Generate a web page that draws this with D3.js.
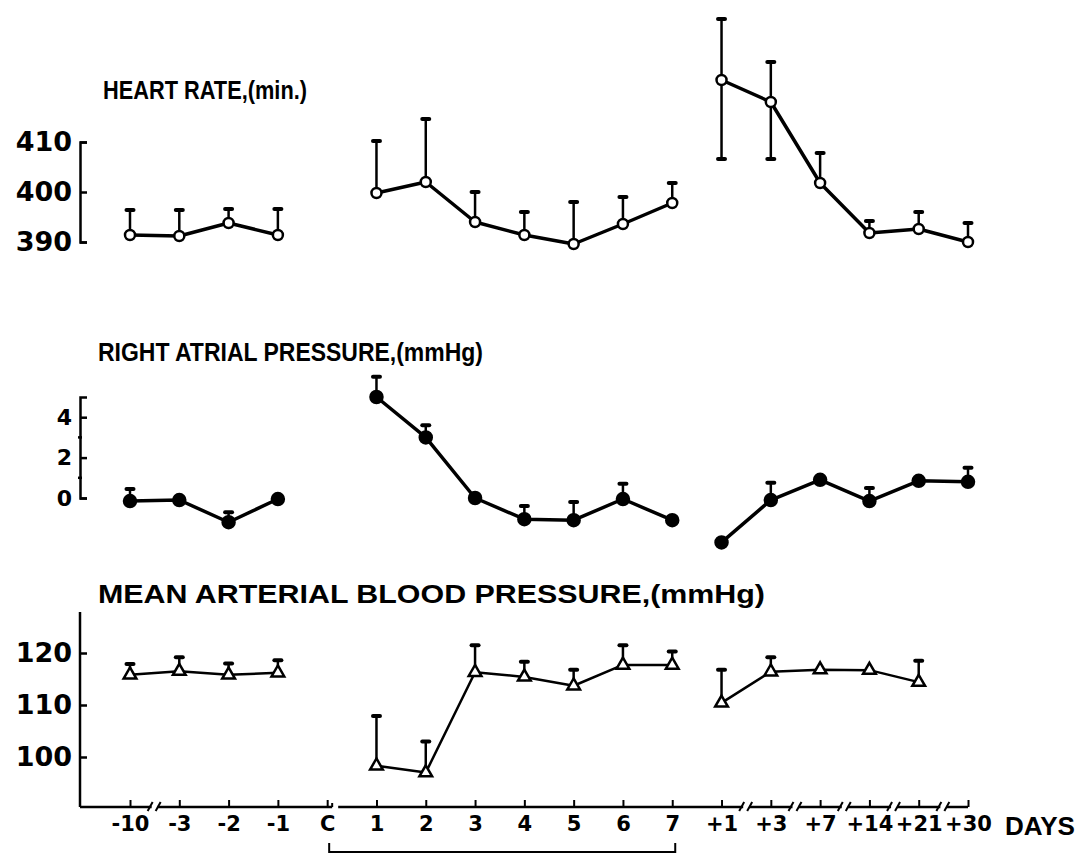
<!DOCTYPE html>
<html>
<head>
<meta charset="utf-8">
<script src="https://cdn.jsdelivr.net/npm/d3@7"></script>
<style>
  body { margin: 0; background: #fff; }
  svg text { font-family: "DejaVu Sans", sans-serif; font-weight: bold; fill: #000; }
  svg text.title { font-family: "Liberation Sans", Arial, sans-serif; }
</style>
</head>
<body>
<svg id="chart" width="1081" height="856"></svg>
<script>
// day categories along the bottom axis
const days  = ["-10","-3","-2","-1","C","1","2","3","4","5","6","7","+1","+3","+7","+14","+21","+30"];
const phase = ["pre","pre","pre","pre",null,"on","on","on","on","on","on","on","post","post","post","post","post","post"];

// heart rate (per min.)
const heartRate   = [391.4,391.2,393.8,391.4,null,399.8,402.0,394.0,391.4,389.6,393.6,397.8,422.4,418.0,401.8,391.8,392.6,390.0];
const hrErrTop    = [396.4,396.4,396.6,396.6,null,410.2,414.6,400.0,396.0,398.0,399.0,401.8,434.6,426.0,407.8,394.2,396.0,393.8];
const hrErrBottom = [null,null,null,null,null,null,null,null,null,null,null,null,406.6,406.6,null,null,null,null];

// right atrial pressure (mmHg)
const rap       = [-0.15,-0.1,-1.2,-0.05,null,5.0,3.0,0.0,-1.05,-1.1,-0.05,-1.1,-2.2,-0.1,0.9,-0.15,0.85,0.8];
const rapErrTop = [0.45,null,-0.7,null,null,6.0,3.6,null,-0.4,-0.2,0.7,null,null,0.75,null,0.5,null,1.5];

// mean arterial blood pressure (mmHg)
const mabp       = [115.8,116.5,115.8,116.2,null,98.3,97.0,116.3,115.4,113.7,117.7,117.7,110.4,116.4,116.8,116.7,114.4,null];
const mabpErrTop = [117.9,119.2,118.0,118.6,null,107.9,103.0,121.5,118.3,116.8,121.5,120.3,116.8,119.2,null,null,118.5,null];

const hrTicks   = [390, 400, 410];
const rapTicks  = [0, 2, 4];
const rapMinor  = [1, 3];
const mabpTicks = [100, 110, 120];

const svg = d3.select("#chart");
const axisX = 80, baseY = 807;

const x = d3.scalePoint().domain(days).range([130, 968]);
const yHR   = d3.scaleLinear().domain([390, 410]).range([242, 142]);
const yRAP  = d3.scaleLinear().domain([0, 5]).range([498, 397]);
const yMABP = d3.scaleLinear().domain([100, 120]).range([757, 653]);

function title(txt, tx, ty, len) {
    svg.append("text").attr("class", "title").attr("x", tx).attr("y", ty)
        .attr("font-size", 25).attr("textLength", len)
        .attr("lengthAdjust", "spacingAndGlyphs").text(txt);
}

function yAxis(y, ticks, fs, hooks) {
    const g = svg.append("g").attr("transform", `translate(${axisX},0)`)
        .call(d3.axisLeft(y).tickValues(ticks).tickFormat(d3.format("d"))
            .tickSizeInner(-7).tickSizeOuter(hooks ? -7 : 0).tickPadding(8));
    g.selectAll("path, line").attr("stroke", "#000").attr("stroke-width", 2.5);
    g.selectAll("text").attr("font-size", fs).attr("font-family", null);
    return g;
}

function panel(vals, top, bottom, y, marker, lw) {
    const g = svg.append("g");
    const idx = d3.range(days.length);
    const line = d3.line().x(i => x(days[i])).y(i => y(vals[i]));
    ["pre", "on", "post"].forEach(p => {
        g.append("path")
            .datum(idx.filter(i => phase[i] === p && vals[i] != null))
            .attr("d", line).attr("fill", "none")
            .attr("stroke", "#000").attr("stroke-width", lw)
            .attr("stroke-linejoin", "round");
    });
    [top, bottom].forEach(arr => {
        if (!arr) return;
        const e = idx.filter(i => arr[i] != null && vals[i] != null);
        g.selectAll(null).data(e).enter().append("line")
            .attr("x1", i => x(days[i])).attr("x2", i => x(days[i]))
            .attr("y1", i => y(vals[i])).attr("y2", i => y(arr[i]))
            .attr("stroke", "#000").attr("stroke-width", 2.5);
        g.selectAll(null).data(e).enter().append("line")
            .attr("x1", i => x(days[i]) - 3.5).attr("x2", i => x(days[i]) + 3.5)
            .attr("y1", i => y(arr[i])).attr("y2", i => y(arr[i]))
            .attr("stroke", "#000").attr("stroke-width", 4).attr("stroke-linecap", "round");
    });
    const pts = idx.filter(i => vals[i] != null);
    if (marker === "triangle") {
        g.selectAll(null).data(pts).enter().append("path")
            .attr("d", d3.symbol(d3.symbolTriangle, 70))
            .attr("transform", i => `translate(${x(days[i])},${y(vals[i])})`)
            .attr("fill", "#fff").attr("stroke", "#000").attr("stroke-width", 2.5);
    } else {
        g.selectAll(null).data(pts).enter().append("circle")
            .attr("cx", i => x(days[i])).attr("cy", i => y(vals[i]))
            .attr("r", marker === "filled" ? 6 : 5)
            .attr("fill", marker === "filled" ? "#000" : "#fff")
            .attr("stroke", "#000").attr("stroke-width", 2.5);
    }
}

// --- heart rate ---
title("HEART RATE,(min.)", 103, 99, 204);
yAxis(yHR, hrTicks, 27, true);
panel(heartRate, hrErrTop, hrErrBottom, yHR, "open", 3.5);

// --- right atrial pressure ---
title("RIGHT ATRIAL PRESSURE,(mmHg)", 98, 361, 385);
const rg = yAxis(yRAP, rapTicks, 22, true);
rg.selectAll(null).data(rapMinor).enter().append("line")
    .attr("x1", -2).attr("x2", 2).attr("y1", d => yRAP(d)).attr("y2", d => yRAP(d))
    .attr("stroke", "#000").attr("stroke-width", 2.5);
panel(rap, rapErrTop, null, yRAP, "filled", 3.5);

// --- mean arterial blood pressure ---
title("MEAN ARTERIAL BLOOD PRESSURE,(mmHg)", 98, 603, 667);
const mg = yAxis(yMABP, mabpTicks, 27, false);
mg.select(".domain").remove();
svg.append("line").attr("x1", axisX).attr("x2", axisX).attr("y1", baseY).attr("y2", 612)
    .attr("stroke", "#000").attr("stroke-width", 2.5);
panel(mabp, mabpErrTop, null, yMABP, "triangle", 2.5);

// --- broken day axis ---
const xg = svg.append("g").attr("transform", `translate(0,${baseY})`)
    .call(d3.axisBottom(x).tickSizeInner(-7).tickSizeOuter(0).tickPadding(9));
xg.select(".domain").remove();
xg.selectAll("line").attr("stroke", "#000").attr("stroke-width", 2);
xg.selectAll("text").attr("font-size", 21).attr("font-family", null);

const breaksAfter = ["-10", "+1", "+3", "+7", "+14", "+21"];
const gaps = breaksAfter.map(d => (x(d) + x(days[days.indexOf(d) + 1])) / 2);
const cGap = x("C") + 8;
const cuts = [cGap].concat(gaps).sort((a, b) => a - b);
let start = axisX;
cuts.concat([x("+30")]).forEach((c, k) => {
    const end = k < cuts.length ? c - 3 : c;
    xg.append("line").attr("x1", start).attr("x2", end).attr("y1", 0).attr("y2", 0)
        .attr("stroke", "#000").attr("stroke-width", 2.5);
    start = c + 3;
});
xg.selectAll(null).data(gaps).enter().append("g").each(function(gx) {
    [-4, 4].forEach(o => d3.select(this).append("line")
        .attr("x1", gx + o - 3).attr("x2", gx + o + 2)
        .attr("y1", 4).attr("y2", -5)
        .attr("stroke", "#000").attr("stroke-width", 2));
});
xg.append("line").attr("x1", cGap - 3).attr("x2", cGap - 3).attr("y1", 0).attr("y2", -4)
    .attr("stroke", "#000").attr("stroke-width", 2);

svg.append("text").attr("class", "title").attr("x", 1005).attr("y", 835).attr("font-size", 25)
    .attr("textLength", 70).attr("lengthAdjust", "spacingAndGlyphs").text("DAYS");

// bracket under the treatment days
const bx0 = x("C") + 2, bx1 = x("7") + 3;
svg.append("path")
    .attr("d", d3.line()([[bx0, 843], [bx0, 852], [bx1, 852], [bx1, 843]]))
    .attr("fill", "none").attr("stroke", "#000").attr("stroke-width", 2);
</script>
</body>
</html>
